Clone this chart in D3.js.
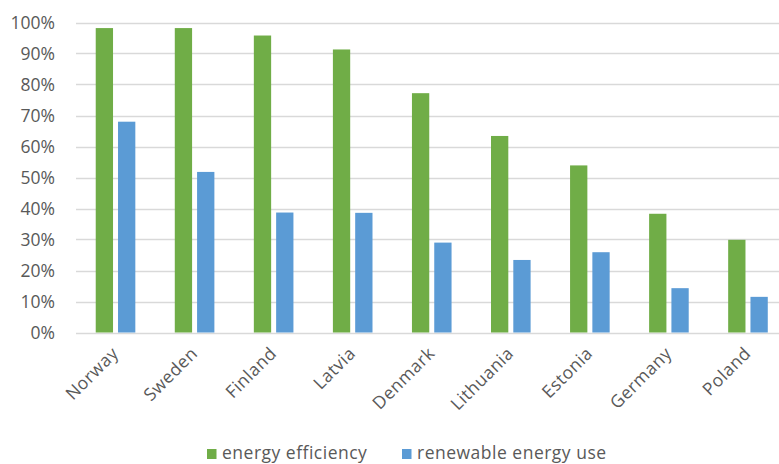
<!DOCTYPE html>
<html>
<head>
<meta charset="utf-8">
<script src="https://cdn.jsdelivr.net/npm/d3@7"></script>
<style>
  html, body { margin: 0; padding: 0; background: #fff; }
  svg { display: block; font-family: "Open Sans", sans-serif; }
</style>
</head>
<body>
<svg id="chart" width="779" height="464"></svg>
<script>
// Share of respondents per country, two indicators
const countries = ["Norway", "Sweden", "Finland", "Latvia", "Denmark", "Lithuania", "Estonia", "Germany", "Poland"];
const seriesNames = ["energy efficiency", "renewable energy use"];
const energyEfficiency = [0.982, 0.982, 0.958, 0.913, 0.772, 0.634, 0.539, 0.383, 0.299];
const renewableUse = [0.680, 0.518, 0.387, 0.386, 0.290, 0.234, 0.259, 0.143, 0.115];
const yTicks = [0, 0.1, 0.2, 0.3, 0.4, 0.5, 0.6, 0.7, 0.8, 0.9, 1.0];
const colors = ["#70AD47", "#5B9BD5"];

const rows = countries.map((c, i) => ({ country: c, values: [energyEfficiency[i], renewableUse[i]] }));

const svg = d3.select("#chart");
const plot = { left: 76, right: 787.5, top: 22.5, bottom: 332.5 };
const textColor = "#595959";

const x0 = d3.scaleBand().domain(countries).range([plot.left, plot.right]).padding(0);
const groupWidth = 39.6;
const x1 = d3.scaleBand().domain(d3.range(seriesNames.length)).range([0, groupWidth]).paddingInner(0.224);
const y = d3.scaleLinear().domain([0, 1]).range([plot.bottom, plot.top]);

// Horizontal gridlines
svg.append("g")
  .selectAll("line")
  .data(yTicks)
  .join("line")
  .attr("x1", plot.left).attr("x2", plot.right)
  .attr("y1", d => Math.round(y(d)) + 0.5).attr("y2", d => Math.round(y(d)) + 0.5)
  .attr("stroke", "#d9d9d9").attr("stroke-width", 1.3);

// Y axis labels
const yAxis = d3.axisLeft(y).tickValues(yTicks).tickFormat(d3.format(".0%")).tickSize(0).tickPadding(0);
svg.append("g")
  .attr("transform", `translate(${plot.left - 21},0)`)
  .call(yAxis)
  .call(g => g.select(".domain").remove())
  .call(g => g.selectAll("text")
    .attr("fill", textColor).attr("font-size", 17.5).attr("font-family", "Open Sans, sans-serif"));

// Bars
const groups = svg.append("g")
  .selectAll("g")
  .data(rows)
  .join("g")
  .attr("transform", d => `translate(${x0(d.country) + x0.bandwidth() / 2 - groupWidth / 2},0)`);

groups.selectAll("rect")
  .data(d => d.values.map((v, i) => ({ v, i })))
  .join("rect")
  .attr("x", d => x1(d.i))
  .attr("width", x1.bandwidth())
  .attr("y", d => y(d.v))
  .attr("height", d => y(0) - y(d.v))
  .attr("fill", d => colors[d.i]);

// Category labels, rotated
const xAxis = d3.axisBottom(x0).tickSize(0).tickPadding(0);
svg.append("g")
  .attr("transform", `translate(0,${plot.bottom})`)
  .call(xAxis)
  .call(g => g.select(".domain").remove())
  .call(g => g.selectAll("text")
    .attr("fill", textColor).attr("font-size", 17.5).attr("font-family", "Open Sans, sans-serif")
    .attr("letter-spacing", 0.5)
    .attr("text-anchor", "end")
    .attr("dy", null).attr("y", 0)
    .attr("transform", "translate(4,22) rotate(-45)"));

// Legend
const legend = svg.append("g").attr("transform", "translate(207,454)");
const legendX = [0, 195];
const items = legend.selectAll("g")
  .data(seriesNames)
  .join("g")
  .attr("transform", (d, i) => `translate(${legendX[i]},0)`);
items.append("rect").attr("x", 0).attr("y", -5).attr("width", 9.5).attr("height", 10)
  .attr("fill", (d, i) => colors[i]);
items.append("text").attr("x", 15).attr("y", 5)
  .attr("fill", textColor).attr("font-size", 17.5).attr("letter-spacing", 0.5)
  .text(d => d);
</script>
</body>
</html>
